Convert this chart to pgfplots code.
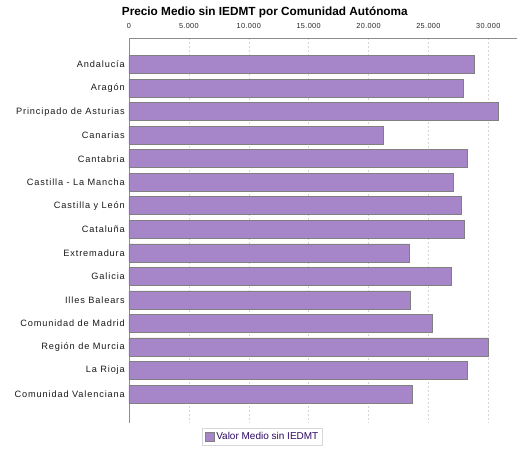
\documentclass[border=0pt]{standalone}
\usepackage{pgfplots}
\pgfplotsset{compat=1.18}
\usepackage{fontspec}
\setmainfont{Liberation Sans}
\newfontfamily\lblfont[LetterSpace=9.5]{Liberation Sans}
\newfontfamily\tickfont[LetterSpace=5]{Liberation Sans}
\definecolor{barfill}{RGB}{166,134,200}
\definecolor{barline}{RGB}{128,128,128}
\definecolor{gridc}{RGB}{215,215,215}
\definecolor{axisc}{RGB}{140,140,140}
\definecolor{legtext}{RGB}{45,10,100}
\begin{document}
\begin{tikzpicture}
\useasboundingbox (-129pt,38pt) rectangle (396pt,-412pt);
\begin{axis}[
  at={(0,0)}, anchor=north west,
  scale only axis, width=388pt, height=385pt,
  xbar, bar width=18pt,
  xmin=0, xmax=32400,
  ymin=-1.13, ymax=15.23, y dir=reverse,
  axis x line*=top, axis y line*=left,
  axis line style={draw=axisc, -},
  xtick={0,5000,...,30000},
  scaled x ticks=false,
  ytick={0,...,14},
  yticklabels={Andaluc\'ia,Arag\'on,Principado de Asturias,Canarias,Cantabria,Castilla - La Mancha,Castilla y Le\'on,Catalu\~na,Extremadura,Galicia,Illes Balears,Comunidad de Madrid,Regi\'on de Murcia,La Rioja,Comunidad Valenciana},
  major tick length=0pt,
  xmajorgrids,
  grid style={draw=gridc, dash pattern=on 2pt off 2pt},
  /pgf/number format/.cd, 1000 sep={.}, assume math mode=true,
  /pgfplots/.cd,
  xticklabel style={font=\tickfont\fontsize{7.3}{8}\selectfont, inner sep=0pt, yshift=9pt, text=black!85},
  yticklabel style={font=\lblfont\fontsize{9.2}{10}\selectfont, inner sep=0pt, xshift=-4pt, text=black!90},
  title={\bfseries Precio Medio sin IEDMT por Comunidad Aut\'onoma},
  title style={font=\fontsize{11.8}{13}\selectfont, at={(0.35,1)}, anchor=base, yshift=17pt, inner sep=0pt},
  legend style={at={(0.344,-0.013)}, anchor=north, draw=gridc, font=\fontsize{10}{12}\selectfont, text=legtext, inner sep=2pt, legend cell align=left},
  legend image code/.code={\draw[#1, draw=barline] (0pt,-4.5pt) rectangle (9pt,4.5pt);},
]
\addplot[fill=barfill, draw=barline, line width=0.7pt] coordinates {
(28867,0) (27950,1) (30867,2) (21200,3) (28283,4) (27117,5) (27783,6) (28033,7)
(23450,8) (26950,9) (23533,10) (25367,11) (30033,12) (28283,13) (23700,14)
};
\addlegendentry{Valor Medio sin IEDMT}
\end{axis}
\end{tikzpicture}
\end{document}
